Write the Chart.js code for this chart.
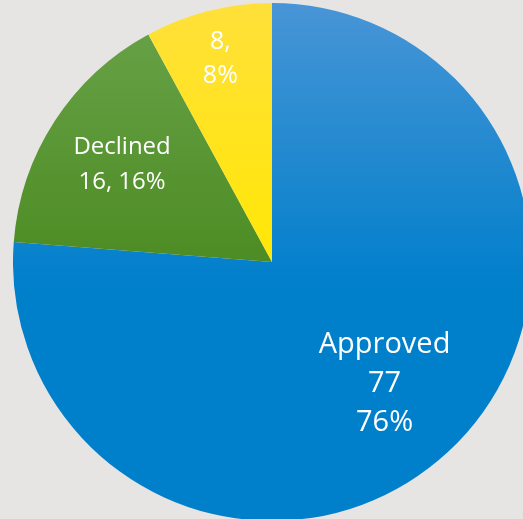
<!DOCTYPE html>
<html>
<head>
<meta charset="utf-8">
<script src="https://cdn.jsdelivr.net/npm/chart.js@4/dist/chart.umd.min.js"></script>
<style>
  html, body { margin: 0; padding: 0; background: #e7e5e4; overflow: hidden; }
  body { width: 523px; height: 519px; position: relative; }
  #wrap { position: absolute; left: 13px; top: 3px; width: 518px; height: 518px; }
</style>
</head>
<body>
<div id="wrap"><canvas id="grafica"></canvas></div>
<script>
// Datos del gráfico de pastel
var categorias = ['Approved', 'Declined', ''];
var valores = [77, 16, 8];

// Colores (arriba / abajo) de cada rebanada
var coloresArriba = ['#4895d6', '#6aa34a', '#ffe03a'];
var coloresAbajo = ['#007fcb', '#4a8a20', '#ffe800'];

// Que tan lejos del centro va cada etiqueta (fracción del radio)
var distEtiqueta = [0.64, 0.69, 0.81];
var tamFuente = [29, 24, 25];
var altoLinea = [39, 35, 34];

var total = valores.reduce(function (a, b) { return a + b; }, 0);

function textoEtiqueta(i) {
    var pct = Math.round(valores[i] / total * 100) + '%';
    if (i === 0) return [categorias[i], String(valores[i]), pct];
    if (categorias[i] === '') return [valores[i] + ',', pct];
    return [categorias[i], valores[i] + ', ' + pct];
}

var pluginEtiquetas = {
    id: 'etiquetas',
    afterDatasetsDraw: function (chart) {
        var ctx = chart.ctx;
        var arcos = chart.getDatasetMeta(0).data;
        ctx.save();
        ctx.fillStyle = '#ffffff';
        ctx.textAlign = 'center';
        ctx.textBaseline = 'middle';
        for (var i = 0; i < arcos.length; i++) {
            var a = arcos[i];
            var medio = (a.startAngle + a.endAngle) / 2;
            var r = a.outerRadius * distEtiqueta[i];
            var x = a.x + Math.cos(medio) * r;
            var y = a.y + Math.sin(medio) * r;
            var lineas = textoEtiqueta(i);
            ctx.font = tamFuente[i] + 'px "Open Sans", sans-serif';
            var y0 = y - (lineas.length - 1) * altoLinea[i] / 2;
            for (var j = 0; j < lineas.length; j++) {
                ctx.fillText(lineas[j], x, y0 + j * altoLinea[i]);
            }
        }
        ctx.restore();
    }
};

function degradado(context) {
    var chart = context.chart;
    var area = chart.chartArea;
    if (!area) return coloresAbajo[context.dataIndex];
    var g = chart.ctx.createLinearGradient(0, area.top, 0, area.bottom);
    g.addColorStop(0, coloresArriba[context.dataIndex]);
    g.addColorStop(0.55, coloresAbajo[context.dataIndex]);
    g.addColorStop(1, coloresAbajo[context.dataIndex]);
    return g;
}

var chart = new Chart(document.getElementById('grafica').getContext('2d'), {
    type: 'pie',
    data: {
        labels: categorias,
        datasets: [{
            data: valores,
            backgroundColor: degradado,
            borderWidth: 0
        }]
    },
    options: {
        responsive: true,
        maintainAspectRatio: false,
        animation: false,
        layout: { padding: 0 },
        plugins: {
            legend: { display: false },
            tooltip: { enabled: false }
        }
    },
    plugins: [pluginEtiquetas]
});
</script>
</body>
</html>
